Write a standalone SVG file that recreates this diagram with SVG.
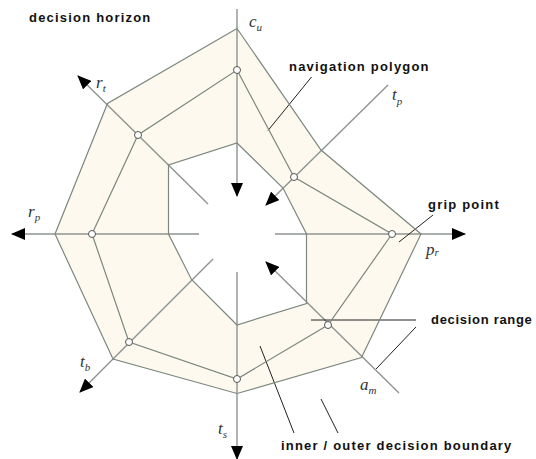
<svg xmlns="http://www.w3.org/2000/svg" width="536" height="459" viewBox="0 0 536 459">
<style>
.band{fill:#fdf9ee;stroke:none}
.poly{fill:none;stroke:#7d877f;stroke-width:1.2}
.axis{fill:none;stroke:#8e948f;stroke-width:1.4}
.lead{fill:none;stroke:#222;stroke-width:1}
.pt{fill:#fff;stroke:#555;stroke-width:1}
.lbl{font-family:"Liberation Sans",Arial,sans-serif;font-weight:bold;font-size:13px;letter-spacing:1.2px;fill:#111}
.ax{font-family:"Liberation Serif","Times New Roman",serif;font-style:italic;font-size:17px;fill:#333}
.sub{font-size:11px}
</style>
<defs>
<marker id="ah" viewBox="0 0 14 12" refX="13" refY="6" markerWidth="14" markerHeight="12" markerUnits="userSpaceOnUse" orient="auto">
<path d="M0,0 L14,6 L0,12 Z" fill="#000"/>
</marker>
</defs>
<g id="band">
<path class="band" fill-rule="evenodd" d="M237,28.5 L321,150 L421,234 L361.5,357.5 L237,393.5 L113,359 L55,234 L107.5,103.5 Z M237,143 L283,188 L306.5,234 L306.5,303.5 L237,325 L191.5,279.5 L168.5,234 L168.5,165 Z"/>
</g>
<g id="connectors">
<line class="axis" x1="237" y1="9" x2="237" y2="196" marker-end="url(#ah)"/>
<line class="axis" x1="208" y1="204" x2="78" y2="76" marker-end="url(#ah)"/>
<line class="axis" x1="388" y1="85" x2="266" y2="205" marker-end="url(#ah)"/>
<line class="axis" x1="275" y1="234" x2="465" y2="234" marker-end="url(#ah)"/>
<line class="axis" x1="399" y1="393" x2="266" y2="262" marker-end="url(#ah)"/>
<line class="axis" x1="237" y1="272" x2="237" y2="459" marker-end="url(#ah)"/>
<line class="axis" x1="213" y1="259" x2="80" y2="392" marker-end="url(#ah)"/>
<line class="axis" x1="199" y1="234" x2="12" y2="234" marker-end="url(#ah)"/>
<line class="lead" x1="311.5" y1="77" x2="268" y2="130.5"/>
<line class="lead" x1="399" y1="242" x2="433" y2="215"/>
<line class="lead" x1="311" y1="320" x2="416" y2="320"/>
<line class="lead" x1="416" y1="327" x2="376" y2="369"/>
<line class="lead" x1="260" y1="346" x2="294" y2="433"/>
<line class="lead" x1="321" y1="399" x2="338" y2="433"/>
</g>
<g id="outer-boundary">
<path class="poly" d="M237,28.5 L321,150 L421,234 L361.5,357.5 L237,393.5 L113,359 L55,234 L107.5,103.5 Z"/>
</g>
<g id="inner-boundary">
<path class="poly" d="M237,143 L283,188 L306.5,234 L306.5,303.5 L237,325 L191.5,279.5 L168.5,234 L168.5,165 Z"/>
</g>
<g id="navigation-polygon">
<path class="poly" d="M237,70 L294,177 L392,234 L328,325 L237,379 L129,342 L92,234 L138,135 Z"/>
<circle class="pt" cx="237" cy="70" r="3.5"/>
<circle class="pt" cx="294" cy="177" r="3.5"/>
<circle class="pt" cx="392" cy="234" r="3.5"/>
<circle class="pt" cx="328" cy="325" r="3.5"/>
<circle class="pt" cx="237" cy="379" r="3.5"/>
<circle class="pt" cx="129" cy="342" r="3.5"/>
<circle class="pt" cx="92" cy="234" r="3.5"/>
<circle class="pt" cx="138" cy="135" r="3.5"/>
</g>
<g id="labels">
<text class="lbl" x="29" y="22">decision horizon</text>
<text class="lbl" x="289" y="71">navigation polygon</text>
<text class="lbl" x="428" y="209">grip point</text>
<text class="lbl" x="431" y="324" style="letter-spacing:0.7px">decision range</text>
<text class="lbl" x="281" y="450">inner / outer decision boundary</text>
</g>
<g id="axis-labels">
<text class="ax" x="249" y="27">c<tspan class="sub" dy="4">u</tspan></text>
<text class="ax" x="96" y="88">r<tspan class="sub" dy="4">t</tspan></text>
<text class="ax" x="28" y="217">r<tspan class="sub" dy="4">p</tspan></text>
<text class="ax" x="392" y="100">t<tspan class="sub" dy="5">p</tspan></text>
<text class="ax" x="426" y="255">p<tspan class="sub" dy="1">r</tspan></text>
<text class="ax" x="360" y="390">a<tspan class="sub" dy="4">m</tspan></text>
<text class="ax" x="80" y="367">t<tspan class="sub" dy="4">b</tspan></text>
<text class="ax" x="218" y="434">t<tspan class="sub" dy="4">s</tspan></text>
</g>
</svg>
